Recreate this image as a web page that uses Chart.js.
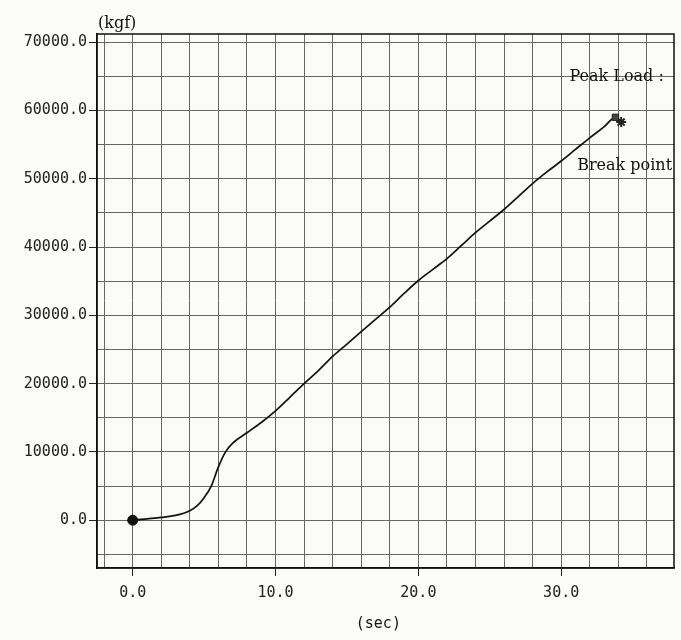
<!DOCTYPE html>
<html>
<head>
<meta charset="utf-8">
<script src="https://cdn.jsdelivr.net/npm/chart.js@4/dist/chart.umd.min.js"></script>
<style>
  html, body { margin: 0; padding: 0; background: #fbfbf8; }
  #wrap { width: 681px; height: 640px; position: relative; }
</style>
</head>
<body>
<div id="wrap"><canvas id="c" width="681" height="640"></canvas></div>
<script>
// ---- data ----
const timeSec = [0, 1, 2, 3, 4, 4.5, 5, 5.5, 6, 6.5, 7, 8, 9, 10, 11, 12, 13, 14, 15, 16, 17, 18, 19, 20, 21, 22, 23, 24, 25, 26, 27, 28, 29, 30, 31, 32, 33, 33.8, 34.2];
const loadKgf = [0, 200, 400, 700, 1400, 2100, 3300, 5000, 7800, 10000, 11300, 12800, 14300, 16000, 18000, 20000, 21900, 24000, 25800, 27600, 29400, 31200, 33200, 35100, 36700, 38300, 40200, 42100, 43800, 45500, 47400, 49300, 51000, 52600, 54300, 56000, 57600, 59000, 58300];
const startTime = [0];
const startLoad = [0];
const peakTime = [33.8];
const peakLoad = [59000];
const breakTime = [34.2];
const breakLoad = [58300];
const yTickValues = [-5000, 0, 5000, 10000, 15000, 20000, 25000, 30000, 35000, 40000, 45000, 50000, 55000, 60000, 65000, 70000];
const xTickValues = [-2, 0, 2, 4, 6, 8, 10, 12, 14, 16, 18, 20, 22, 24, 26, 28, 30, 32, 34, 36];
const yUnit = '(kgf)';
const xUnit = '(sec)';
const peakText = 'Peak Load :';
const breakText = 'Break point';

const toXY = (xs, ys) => xs.map((x, i) => ({ x: x, y: ys[i] }));

const decor = {
  id: 'decor',
  beforeDraw(chart) {
    const c = chart.ctx;
    c.save();
    c.fillStyle = '#fbfbf8';
    c.fillRect(0, 0, chart.width, chart.height);
    c.restore();
  },
  afterDraw(chart) {
    const c = chart.ctx, a = chart.chartArea;
    const xs = chart.scales.x, ys = chart.scales.y;
    c.save();
    c.strokeStyle = '#111';
    c.lineWidth = 1.5;
    c.strokeRect(a.left, a.top, a.right - a.left, a.bottom - a.top);
    c.fillStyle = '#111';
    c.font = '16px "DejaVu Serif"';
    c.textBaseline = 'alphabetic';
    c.textAlign = 'left';
    c.fillText(yUnit, a.left + 1, a.top - 6);
    const px = xs.getPixelForValue(peakTime[0]);
    const py = ys.getPixelForValue(peakLoad[0]);
    c.fillText(peakText, px - 46, py - 36);
    const bx = xs.getPixelForValue(breakTime[0]);
    const by = ys.getPixelForValue(breakLoad[0]);
    c.fillText(breakText, bx - 44, by + 48);
    c.font = '15px "DejaVu Sans Mono"';
    c.textAlign = 'center';
    c.fillText(xUnit, xs.getPixelForValue(17.2), 628);
    c.restore();
  }
};

new Chart(document.getElementById('c'), {
  type: 'scatter',
  data: {
    datasets: [
      {
        data: toXY(timeSec, loadKgf),
        showLine: true,
        borderColor: '#111',
        borderWidth: 1.7,
        pointRadius: 0,
        cubicInterpolationMode: 'monotone',
        order: 3
      },
      {
        data: toXY(startTime, startLoad),
        pointStyle: 'circle',
        pointRadius: 5,
        backgroundColor: '#111',
        borderColor: '#111',
        order: 1
      },
      {
        data: toXY(peakTime, peakLoad),
        pointStyle: 'rect',
        pointRadius: 4.5,
        backgroundColor: '#444',
        borderColor: '#222',
        borderWidth: 1,
        order: 1
      },
      {
        data: toXY(breakTime, breakLoad),
        pointStyle: 'star',
        pointRadius: 5,
        backgroundColor: '#333',
        borderColor: '#222',
        borderWidth: 2,
        order: 1
      }
    ]
  },
  options: {
    responsive: false,
    animation: false,
    devicePixelRatio: 1,
    layout: { padding: { left: 0, top: 34, right: 4, bottom: 0 } },
    plugins: { legend: { display: false }, tooltip: { enabled: false } },
    scales: {
      x: {
        type: 'linear',
        min: -2.5,
        max: 37.9,
        afterBuildTicks: (s) => { s.ticks = xTickValues.map(v => ({ value: v })); },
        afterFit: (s) => { s.height = 72; },
        ticks: {
          autoSkip: false,
          maxRotation: 0,
          color: '#222',
          font: { family: 'DejaVu Sans Mono', size: 15 },
          padding: 8,
          callback: (v) => (v % 10 === 0 ? Number(v).toFixed(1) : '')
        },
        grid: {
          color: '#666',
          lineWidth: 1,
          tickLength: 8,
          tickColor: (ctx) => (ctx.tick && ctx.tick.value % 10 === 0 ? '#222' : 'rgba(0,0,0,0)')
        },
        border: { display: true, color: '#111', width: 1.5 }
      },
      y: {
        type: 'linear',
        min: -7000,
        max: 71200,
        afterBuildTicks: (s) => { s.ticks = yTickValues.map(v => ({ value: v })); },
        afterFit: (s) => { s.width = 97; },
        ticks: {
          autoSkip: false,
          color: '#222',
          font: { family: 'DejaVu Sans Mono', size: 15 },
          padding: 2,
          callback: (v) => (v % 10000 === 0 ? Number(v).toFixed(1) : '')
        },
        grid: {
          color: '#666',
          lineWidth: 1,
          tickLength: 8,
          tickColor: (ctx) => (ctx.tick && ctx.tick.value % 10000 === 0 ? '#222' : 'rgba(0,0,0,0)')
        },
        border: { display: true, color: '#111', width: 1.5 }
      }
    }
  },
  plugins: [decor]
});
</script>
</body>
</html>
